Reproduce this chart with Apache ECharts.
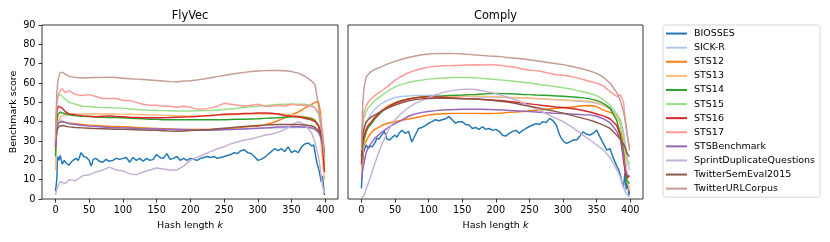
<!DOCTYPE html>
<html><head><meta charset="utf-8">
<script src="https://cdn.jsdelivr.net/npm/echarts@6/dist/echarts.min.js"></script>
<style>html,body{margin:0;padding:0;background:#fff}#c{width:830px;height:242px}</style>
</head><body><div id="c"></div>
<script>
// Hash lengths (x) for the smooth series
const K = [0,2,4,7,10,15,20,30,40,50,60,70,80,90,100,110,120,130,140,150,160,170,180,190,200,210,220,230,240,250,260,270,280,290,300,310,320,330,340,350,360,370,380,385,390,393,396,399];
// Denser hash lengths for the noisy BIOSSES series
const KB = [0,2,3,5,7,10,13,16,20,23,26,30,34,38,42,46,50,53,56,
  60,65,70,75,80,85,90,95,100,105,110,115,120,125,130,135,140,145,150,155,160,165,170,175,180,185,190,195,200,205,
  210,215,220,225,230,235,240,245,250,255,260,265,270,275,280,285,290,295,300,305,310,315,320,325,330,335,340,345,350,355,
  360,365,370,375,380,383,386,388,390,392,394,396,398,399];
const XTICKS = [0,50,100,150,200,250,300,350,400];
const NAMES = ['BIOSSES','SICK-R','STS12','STS13','STS14','STS15','STS16','STS17','STSBenchmark','SprintDuplicateQuestions','TwitterSemEval2015','TwitterURLCorpus'];
const COLORS = ['#1f77b4','#aec7e8','#ff7f0e','#ffbb78','#2ca02c','#98df8a','#d62728','#ff9896','#9467bd','#c5b0d5','#8c564b','#c49c94'];

// ---- FlyVec ----
const flyBIOSSES = [4,10,22,20,22.5,18,20,18.5,17.5,19,20,21,20,24,22,21.5,20,17,20.5,
  21,19.5,19,20.5,19.5,20,21,20.5,21,21.5,
  19,21.5,20,21,19.5,21,20,20.5,23,21.5,
  21,23.5,20.5,21,22,20,21,20,21,20.5,
  20,21,21.5,22,21.5,22,21,21.5,22,22.5,
  23,24,23.5,25,25.5,24,23.5,22,20,20.5,
  21.5,23,24.5,26,25,26,24.5,27,24,25,
  24,27,28.5,29,27.5,
  28,22,18,16,13,9,12,5,2];
const flySICK = [25,36,40,41,40.5,39.5,39, 38.5,38.2,38,37.8,37.5,37.3,37.1,37,36.9,36.8, 36.7,36.6,36.5,36.4,36.3,36.2,36.1,36,36,36, 36,36,36,36.1,36.2,36.3,36.4,36.5,36.6,36.7, 36.8,36.9,37,37,37,36.8, 36,34.5,32,27,20];
const flySTS12 = [27,36,39,40,40,39.5,39.3, 39,38.5,38.2,38,37.8,37.6,37.5,37.4,37.2,37, 36.8,36.6,36.5,36.4,36.2,36,36,36,36,36, 36,36.2,36.3,36.5,36.8,37.2,37.5,37.6,38.3,39.3, 40.5,42,43.5,45,47,49, 50,50.3,45,27,14];
const flySTS13 = [15,35,40,42.5,43,43.5,44, 44,44,44,44,44,44,44,43.9,43.8,43.7, 43.6,43.5,43.5,43.3,43.2,43.1,43,43,43,43.1, 43.2,43.3,43.5,43.6,43.8,44,44,44,44,44, 44,44,43.5,43,42.5,42, 41,38,32,20,10];
const flySTS14 = [22,40,44,45,44.5,44,43.5, 43,42.8,42.6,42.4,42.3,42.2,42.1,42,41.8,41.6, 41.5,41.3,41.2,41,41,41,41,41,41,41, 41,41,41,41.1,41.2,41.3,41.4,41.5,41.7,41.9, 42,42.3,42.5,42.5,42.2,41.5, 40.5,38,34,29,24];
const flySTS15 = [35,50,53.5,54,53,51.5,50, 49,48,47.8,47.5,47.3,47.2,47,47,46.6,46.3, 46,45.9,45.8,45.7,45.6,45.5,45.5,45.5,45.6,45.7, 45.8,46,46.3,46.6,47,47.3,47.7,48,48.3,48.6, 48.9,49,49.1,49,49,48.5, 47,44,39,31,23];
const flySTS16 = [27,45,48,47.5,47,45,44, 43.5,43,42.8,42.5,42.8,43,42.7,42.5,42.3,42.2, 42,42,42,42,42.2,42.3,42.4,42.5,42.7,43, 43.2,43.5,43.8,44,44,44.2,44.3,44.5,44.5,44.4, 44,43.2,42.8,42.5,41.8,40.8, 40,38,35,28,14];
const flySTS17 = [30,50,54,56,57,55,56, 54,53.5,54,53,52,52,52,51,51,50, 49,48.5,48.5,48,48,47.5,48,47.5,46.5,46.5, 47,48,49.5,49,48.5,48,48.5,49,48,48, 48.5,48,49,48.5,48.5,48, 47,45,43,35,25];
const flySTSB = [27,36,39,40,40,39.5,39, 38.5,38,37.7,37.5,37.2,37,36.9,36.8,36.7,36.5, 36.4,36.3,36.2,36.1,36,35.9,35.8,35.7,35.6,35.5, 35.6,35.7,35.8,35.9,36,36.2,36.4,36.6,36.8,37, 37.2,37.3,37.5,37.4,37.2,36.7, 36,34.5,32.5,28,22];
const flySprint = [2,5,7,9,8.5,8,10, 9.5,12,12.5,14,15,16.5,15,14.5,13,12.5, 14,15,16,15.5,15,15,17,20,21.5,23, 24.5,26,27,28.5,29.5,30.5,31,32,33,33.5, 34.5,36,38,40,38.5,34, 29,22,15,7,3];
const flyTSE = [30,35,37,37.8,38,37.6,37.3, 37,36.8,36.6,36.4,36.3,36.2,36.1,36,35.9,35.8, 35.7,35.6,35.5,35.3,35.1,35,35.2,35.4,35.6,35.8, 36,36.3,36.6,36.9,37.2,37.5,37.8,38,38.2,38.4, 38.5,38.5,38.5,38.5,38.3,37.8, 37,35.5,33.5,30,24];
const flyTURL = [30,55,62,65.5,65.5,64.5,63.5, 62.8,62.6,62.7,62.8,62.9,63,62.8,62.5,62.2,62, 61.8,61.6,61.3,61,60.7,60.5,61,61.2,61.6,62.1, 62.7,63.3,63.9,64.5,65,65.5,65.9,66.2,66.4,66.5, 66.5,66.3,65.9,65.1,63.5,61, 59,48,40,32,22];

// ---- Comply ----
const comBIOSSES = [5.5,20,24,26,28,26,27.5,27,29,31.5,31,33,35,31,30.5,32,33,32,34,
  35.5,34,35,29.5,33,36.5,37,38,39.2,40,
  41,40.5,41,41.5,42.6,41,39.2,40,40,38.5,
  38.3,36.5,37,36,37.4,36,36.5,35.5,36,35,
  33,32.5,34,35,35.5,34,35.5,36.5,37.5,38.3,
  39,38.5,40,39.5,41.7,40.5,38.3,33,30,28.8,
  29.5,30.5,30.5,32.5,34.8,33.5,33.1,34,35.7,32,
  28.8,25.3,26,21,17,
  15,11.5,8,6.4,13,5,9,2,5];
const comSICK = [22,32,36,39,41.5,44.3,46.5, 49.5,51.2,52.5,53,53.3,53.5,53.5,53.5,53.5,53.4, 53.3,53.2,53.1,53,52.9,52.8,52.7,52.6,52.5,52.4, 52.3,52.2,52,51.9,51.7,51.5,51.3,51.1,50.9,50.7, 50.4,50,49.5,48.5,47,44, 41,35,28,20,15];
const comSTS12 = [17,24,28,30,32,34.5,36, 38,39.3,40,40.7,41.4,42,42.8,43.4,43.8,44.1, 44.2,44.3,44.3,44.3,44.3,44.2,44.2,44.3,44.5,44.8, 45,45.3,45.6,45.9,46.2,46.6,46.9,47.2,47.5,47.8, 48.2,48.4,47.8,46,44.8,43, 40.5,27,15,8,5];
const comSTS13 = [14,25,30,34,37,40,42.5, 46,48.5,50,51,51.8,52.3,52.6,52.8,53,53, 53.1,53.1,53.2,53.2,53.2,53.1,53,52.9,52.8,52.6, 52.5,52.3,52.2,52,51.8,51.6,51.4,51.2,51,51, 50.8,50.5,50,48.5,46.5,42.5, 39,32,22,10,4];
const comSTS14 = [20,28,31,35,37,39,41.5, 45,47.7,49.7,51,51.8,52.4,52.8,53,53.2,53.3, 53.5,53.7,53.8,54,54.1,54.3,54.5,54.6,54.5,54.4, 54.3,54.1,54,53.8,53.7,53.5,53.3,53.1,52.9,52.6, 52.3,51.8,51,49.5,47,40.5, 34,24,12,9,8];
const comSTS15 = [28,38,42,45,47,49,51, 53.5,56,58,59.3,60.3,61,61.5,62,62.3,62.5, 62.7,62.8,62.8,62.8,62.7,62.4,62.1,61.8,61.5,61.2, 60.8,60.4,60,59.5,59,58.6,58.1,57.5,57,56.2, 55.5,54.6,53.5,51.5,48.5,44, 40,32,25,20,18];
const comSTS16 = [18,30,33,36,38,40,42.2, 45.5,47.8,49.5,50.7,51.7,52.3,52.7,52.9,52.8,52.6, 52.4,52.2,52,51.8,51.7,51.5,51.3,51.1,50.8,50.4, 50,49.6,49.2,48.8,48.4,48,47.6,47.3,46.9,46.4, 45.8,45,44,43,41.5,38, 33,20,13,11,12];
const comSTS17 = [30,40,45,48,50,52,53.5, 56,58.5,61.5,63.5,65.3,66.5,67.5,68.2,68.6,68.9, 69,69.1,69.2,69.3,69.4,69.3,69.5,69.3,69,68.5, 68,67.2,66.6,66.4,65.8,65,64.3,64,63.5,62.8, 61.8,60.8,60,58.5,55.5,53, 54,50,39,32,27];
const comSTSB = [10,15,19,24,26.5,29,31.5, 34.5,37,39,40.8,42.8,44,44.8,45.3,45.7,46, 46.2,46.3,46.4,46.4,46.4,46.4,46.3,46.2,46,45.8, 45.6,45.4,45.2,45,44.7,44.5,44.3,44.2,44,43.8, 43.6,43.5,42.8,41.5,39.5,35, 31,22,15,12,12];
const comSprint = [0.5,1,2,5,8,13,18.5, 28,35.5,41,44.5,47.2,49.5,51,52.5,53.8,55, 55.8,56.3,56.7,56.8,56.6,56,55.3,54.5,53.5,52.4, 51.2,49.8,48.2,46.6,45,43.3,41.7,40,38,35.5, 33,30.5,28,25.3,21.5,15, 11.5,6,3.5,2,1];
const comTSE = [22,33,37,40,41,42.5,43.5, 45.5,47.2,48.6,49.8,50.8,51.4,51.8,52,52.1,52.1, 52.1,52,51.9,51.8,51.7,51.5,51.2,50.8,50.4,50, 49.4,48.6,48,47.3,46.6,45.9,45.2,44.4,43.5,42.6, 41.7,40.8,39.6,38.2,36.5,33, 31,28.5,26,23,22];
const comTURL = [25,50,58,63,64.5,66,67, 68.5,70,71.2,72.3,73.2,74,74.6,75,75.2,75.3, 75.3,75.2,75,74.8,74.5,74.3,74,73.8,73.5,73.1, 72.8,72.4,72,71.5,71,70.5,70,69.5,68.8,68, 67.2,66.2,65,63,60,55, 51,45,40,32,25];

const FLY = [flyBIOSSES,flySICK,flySTS12,flySTS13,flySTS14,flySTS15,flySTS16,flySTS17,flySTSB,flySprint,flyTSE,flyTURL];
const COM = [comBIOSSES,comSICK,comSTS12,comSTS13,comSTS14,comSTS15,comSTS16,comSTS17,comSTSB,comSprint,comTSE,comTURL];

const FONT = 'DejaVu Sans';
const pair = (xs, ys) => ys.map((y, i) => [xs[i], y]);

const series = [];
[FLY, COM].forEach((set, g) => {
  set.forEach((ys, i) => {
    series.push({
      type: 'line', name: NAMES[i], xAxisIndex: g, yAxisIndex: g,
      data: pair(i === 0 ? KB : K, ys),
      showSymbol: false, symbol: 'none', silent: true, z: 2 + i,
      lineStyle: { width: 1.45, color: COLORS[i] },
      itemStyle: { color: COLORS[i] }
    });
  });
});

const xAxisFor = (g) => ({
  type: 'value', gridIndex: g, min: -20, max: 419,
  axisLine: { show: false, onZero: false },
  axisTick: { show: true, length: 3.5, customValues: XTICKS, lineStyle: { color: '#000', width: 0.8 } },
  axisLabel: { show: true, customValues: XTICKS, margin: 6.5, fontSize: 9.7, color: '#000', fontFamily: FONT },
  splitLine: { show: false },
  name: 'Hash length {i|k}', nameLocation: 'middle', nameGap: 18,
  nameTextStyle: { fontSize: 9.5, color: '#000', fontFamily: FONT,
    rich: { i: { fontStyle: 'italic', fontSize: 9.5, color: '#000', fontFamily: FONT } } }
});

const option = {
  animation: false,
  backgroundColor: '#fff',
  grid: [
    { left: 42, top: 25, width: 296, height: 174, show: true, borderColor: '#000', borderWidth: 0.8, backgroundColor: '#fff' },
    { left: 348, top: 25, width: 295, height: 174, show: true, borderColor: '#000', borderWidth: 0.8, backgroundColor: '#fff' }
  ],
  xAxis: [xAxisFor(0), xAxisFor(1)],
  yAxis: [
    { type: 'value', gridIndex: 0, min: 0, max: 90, interval: 10,
      axisLine: { show: false, onZero: false },
      axisTick: { show: true, length: 3.5, lineStyle: { color: '#000', width: 0.8 } },
      axisLabel: { margin: 6.5, fontSize: 9.7, color: '#000', fontFamily: FONT },
      splitLine: { show: false },
      name: 'Benchmark score', nameLocation: 'middle', nameGap: 23,
      nameTextStyle: { fontSize: 9.5, color: '#000', fontFamily: FONT } },
    { type: 'value', gridIndex: 1, min: 0, max: 90, interval: 10,
      axisLine: { show: false, onZero: false }, axisTick: { show: false }, axisLabel: { show: false },
      splitLine: { show: false } }
  ],
  legend: {
    orient: 'vertical', left: 663, top: 25, data: NAMES,
    icon: 'rect', itemWidth: 21, itemHeight: 2, itemGap: 0,
    padding: [1.5, 5, 1.5, 3],
    textStyle: { fontSize: 9.5, color: '#000', fontFamily: FONT, lineHeight: 14.1, padding: [0, 0, 0, 2] },
    borderColor: '#cccccc', borderWidth: 0.8, borderRadius: 2.5, backgroundColor: '#fff',
    selectedMode: false
  },
  graphic: [
    { type: 'text', x: 190, y: 16, style: { text: 'FlyVec', fontSize: 11.4, fontFamily: FONT, fill: '#000', align: 'center', verticalAlign: 'middle' } },
    { type: 'text', x: 495.5, y: 16, style: { text: 'Comply', fontSize: 11.4, fontFamily: FONT, fill: '#000', align: 'center', verticalAlign: 'middle' } }
  ],
  series: series
};

const chart = echarts.init(document.getElementById('c'), null, { renderer: 'canvas' });
chart.setOption(option);
</script>
</body></html>
